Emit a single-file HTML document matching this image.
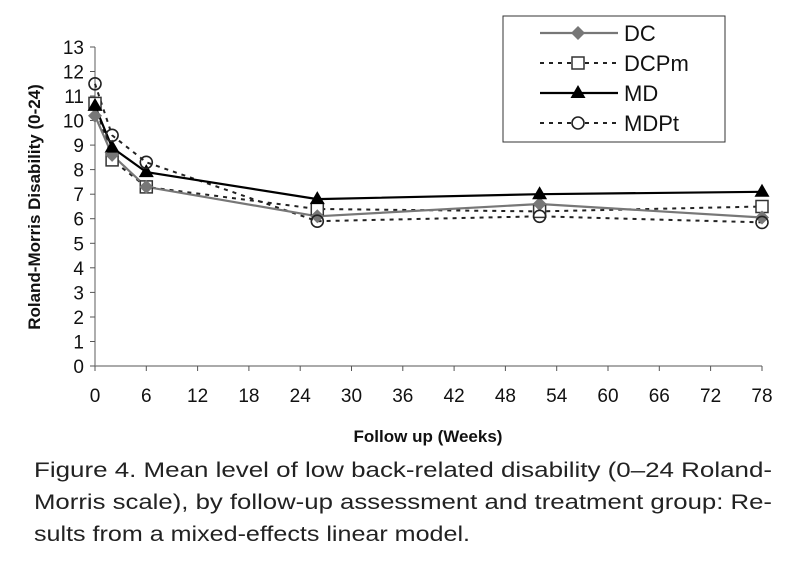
<!DOCTYPE html>
<html><head><meta charset="utf-8"><style>
html,body{margin:0;padding:0;background:#fff;}
svg{display:block;font-family:"Liberation Sans",sans-serif;}
</style></head><body>
<svg width="800" height="567" viewBox="0 0 800 567" xmlns="http://www.w3.org/2000/svg">
<rect width="800" height="567" fill="#fff"/>
<g stroke="#777" stroke-width="1.2" fill="none">
<line x1="95" y1="47" x2="95" y2="366"/>
<line x1="95" y1="366" x2="762" y2="366"/>
</g>
<g stroke="#555" stroke-width="1">
<line x1="90" y1="366" x2="95" y2="366"/><line x1="90" y1="341.5" x2="95" y2="341.5"/><line x1="90" y1="317" x2="95" y2="317"/><line x1="90" y1="292.4" x2="95" y2="292.4"/><line x1="90" y1="267.8" x2="95" y2="267.8"/><line x1="90" y1="243.3" x2="95" y2="243.3"/><line x1="90" y1="218.7" x2="95" y2="218.7"/><line x1="90" y1="194.2" x2="95" y2="194.2"/><line x1="90" y1="169.6" x2="95" y2="169.6"/><line x1="90" y1="145.1" x2="95" y2="145.1"/><line x1="90" y1="120.5" x2="95" y2="120.5"/><line x1="90" y1="96" x2="95" y2="96"/><line x1="90" y1="71.5" x2="95" y2="71.5"/><line x1="90" y1="47" x2="95" y2="47"/>
<line x1="95" y1="366" x2="95" y2="371"/><line x1="146.3" y1="366" x2="146.3" y2="371"/><line x1="197.6" y1="366" x2="197.6" y2="371"/><line x1="248.9" y1="366" x2="248.9" y2="371"/><line x1="300.2" y1="366" x2="300.2" y2="371"/><line x1="351.5" y1="366" x2="351.5" y2="371"/><line x1="402.8" y1="366" x2="402.8" y2="371"/><line x1="454.1" y1="366" x2="454.1" y2="371"/><line x1="505.4" y1="366" x2="505.4" y2="371"/><line x1="556.7" y1="366" x2="556.7" y2="371"/><line x1="608" y1="366" x2="608" y2="371"/><line x1="659.3" y1="366" x2="659.3" y2="371"/><line x1="710.6" y1="366" x2="710.6" y2="371"/><line x1="762" y1="366" x2="762" y2="371"/>
</g>
<g font-size="19" fill="#111" text-anchor="end">
<text x="84" y="373">0</text><text x="84" y="348.5">1</text><text x="84" y="324">2</text><text x="84" y="299.4">3</text><text x="84" y="274.8">4</text><text x="84" y="250.3">5</text><text x="84" y="225.7">6</text><text x="84" y="201.2">7</text><text x="84" y="176.6">8</text><text x="84" y="152.1">9</text><text x="84" y="127.5">10</text><text x="84" y="103">11</text><text x="84" y="78.5">12</text><text x="84" y="54">13</text>
</g>
<g font-size="19" fill="#111" text-anchor="middle">
<text x="95" y="402">0</text><text x="146.3" y="402">6</text><text x="197.6" y="402">12</text><text x="248.9" y="402">18</text><text x="300.2" y="402">24</text><text x="351.5" y="402">30</text><text x="402.8" y="402">36</text><text x="454.1" y="402">42</text><text x="505.4" y="402">48</text><text x="556.7" y="402">54</text><text x="608" y="402">60</text><text x="659.3" y="402">66</text><text x="710.6" y="402">72</text><text x="762" y="402">78</text>
</g>
<text transform="translate(40,207) rotate(-90)" font-size="17" font-weight="bold" text-anchor="middle" fill="#111">Roland-Morris Disability (0-24)</text>
<text x="428" y="442" font-size="17" font-weight="bold" text-anchor="middle" fill="#111">Follow up (Weeks)</text>
<polyline fill="none" stroke="#222" stroke-width="2" stroke-dasharray="4,5" points="95,103.4 112.1,159.9 146.3,186.9 317.3,209 539.6,211.4 762,206.5"/>
<polyline fill="none" stroke="#222" stroke-width="2" stroke-dasharray="4,5" points="95,83.8 112.1,135.3 146.3,162.3 317.3,221.2 539.6,216.3 762,222.4"/>
<polyline fill="none" stroke="#777" stroke-width="2.2" points="95,115.7 112.1,154.9 146.3,186.9 317.3,216.3 539.6,204 762,217.5"/>
<polyline fill="none" stroke="#000" stroke-width="2.2" points="95,105.9 112.1,147.6 146.3,172.1 317.3,199.1 539.6,194.2 762,191.8"/>
<g fill="#fff" stroke="#333" stroke-width="1.5">
<rect x="89" y="97.4" width="12" height="12"/><rect x="106.1" y="153.9" width="12" height="12"/><rect x="140.3" y="180.9" width="12" height="12"/><rect x="311.3" y="203" width="12" height="12"/><rect x="533.6" y="205.4" width="12" height="12"/><rect x="756" y="200.5" width="12" height="12"/>
</g>
<g fill="#777"><path d="M95,108.7 l7,7 l-7,7 l-7,-7z"/><path d="M112.1,147.9 l7,7 l-7,7 l-7,-7z"/><path d="M146.3,179.9 l7,7 l-7,7 l-7,-7z"/><path d="M317.3,209.3 l7,7 l-7,7 l-7,-7z"/><path d="M539.6,197 l7,7 l-7,7 l-7,-7z"/><path d="M762,210.5 l7,7 l-7,7 l-7,-7z"/></g>
<g fill="#000"><path d="M95,97.9 l7.5,13 h-15z"/><path d="M112.1,139.6 l7.5,13 h-15z"/><path d="M146.3,164.1 l7.5,13 h-15z"/><path d="M317.3,191.1 l7.5,13 h-15z"/><path d="M539.6,186.2 l7.5,13 h-15z"/><path d="M762,183.8 l7.5,13 h-15z"/></g>
<g fill="none" stroke="#222" stroke-width="1.6"><circle cx="95" cy="83.8" r="6"/><circle cx="112.1" cy="135.3" r="6"/><circle cx="146.3" cy="162.3" r="6"/><circle cx="317.3" cy="221.2" r="6"/><circle cx="539.6" cy="216.3" r="6"/><circle cx="762" cy="222.4" r="6"/></g>
<rect x="503" y="16" width="222" height="126" fill="#fff" stroke="#333" stroke-width="1"/>
<line x1="540" y1="33" x2="618" y2="33" stroke="#777" stroke-width="2.2"/><path d="M578,26 l7,7 l-7,7 l-7,-7z" fill="#777"/>
<line x1="540" y1="63" x2="618" y2="63" stroke="#222" stroke-width="2" stroke-dasharray="4,5"/><rect x="572" y="57" width="12" height="12" fill="#fff" stroke="#333" stroke-width="1.5"/>
<line x1="540" y1="93" x2="618" y2="93" stroke="#000" stroke-width="2.2"/><path d="M578,85 l7.5,13 h-15z" fill="#000"/>
<line x1="540" y1="123" x2="618" y2="123" stroke="#222" stroke-width="2" stroke-dasharray="4,5"/><circle cx="578" cy="123" r="6" fill="#fff" stroke="#222" stroke-width="1.6"/>
<g font-size="22" fill="#111"><text x="624" y="41">DC</text><text x="624" y="71">DCPm</text><text x="624" y="101">MD</text><text x="624" y="131">MDPt</text></g>
<g font-size="21" fill="#222">
<text x="34" y="477" textLength="738" lengthAdjust="spacingAndGlyphs">Figure 4.  Mean level of low back-related disability (0–24 Roland-</text>
<text x="34" y="509" textLength="738" lengthAdjust="spacingAndGlyphs">Morris scale), by follow-up assessment and treatment group: Re-</text>
<text x="34" y="541" textLength="436" lengthAdjust="spacingAndGlyphs">sults from a mixed-effects linear model.</text>
</g>
</svg>
</body></html>
